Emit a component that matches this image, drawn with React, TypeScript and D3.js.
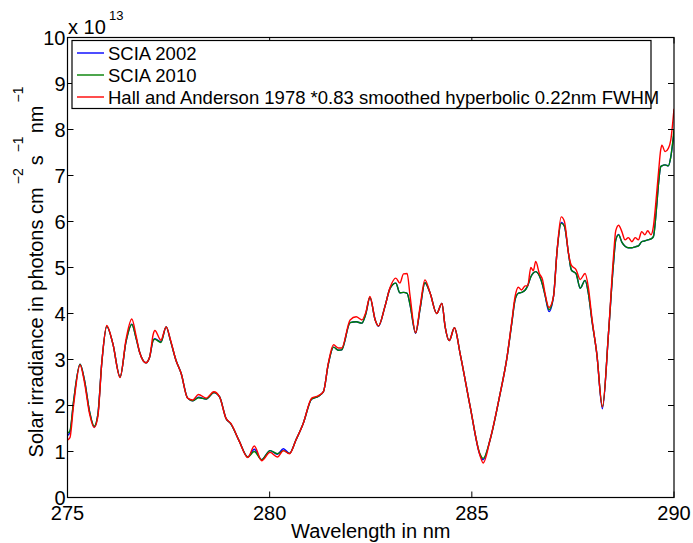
import React from "react";
import * as d3 from "d3";

const wavelengths = [
  275.0, 275.06, 275.15, 275.31, 275.42, 275.55, 275.66, 275.75, 275.85, 275.97,
  276.12, 276.3, 276.45, 276.59, 276.7, 276.78, 276.94, 277.03, 277.12, 277.16,
  277.31, 277.44, 277.55, 277.68, 277.81, 277.97, 278.1, 278.24, 278.43, 278.62,
  278.76, 278.92, 279.04, 279.25, 279.46, 279.62, 279.8, 280.01, 280.19, 280.34,
  280.49, 280.65, 280.83, 281.04, 281.2, 281.33, 281.45, 281.58, 281.7, 281.78,
  281.99, 282.14, 282.28, 282.38, 282.48, 282.61, 282.69, 282.85, 282.98, 283.12,
  283.22, 283.31, 283.4, 283.47, 283.61, 283.72, 283.84, 283.97, 284.13, 284.26,
  284.34, 284.44, 284.57, 284.71, 284.96, 285.2, 285.28, 285.45, 285.7, 285.86,
  285.99, 286.07, 286.15, 286.23, 286.32, 286.38, 286.46, 286.52, 286.58, 286.67,
  286.75, 286.81, 286.91, 287.02, 287.11, 287.21, 287.29, 287.39, 287.46, 287.58,
  287.68, 287.8, 287.88, 287.97, 288.09, 288.23, 288.38, 288.5, 288.56, 288.63,
  288.71, 288.79, 288.87, 288.96, 289.04, 289.12, 289.2, 289.28, 289.35, 289.43,
  289.49, 289.57, 289.62, 289.67, 289.7, 289.78, 289.86, 289.92, 290.0,
];

const scia2002 = [
  1.35, 1.42, 2.08, 2.9, 2.55, 1.85, 1.53, 1.8, 2.95, 3.72,
  3.35, 2.62, 3.4, 3.77, 3.45, 3.17, 2.93, 3.05, 3.42, 3.45,
  3.38, 3.71, 3.4, 2.99, 2.7, 2.16, 2.1, 2.18, 2.14, 2.28,
  2.19, 1.72, 1.6, 1.22, 0.88, 1.05, 0.82, 1.02, 0.94, 1.06,
  0.96, 1.25, 1.61, 2.14, 2.2, 2.3, 2.9, 3.27, 3.2, 3.21,
  3.8, 3.82, 3.79, 4.0, 4.35, 3.86, 3.72, 4.15, 4.55, 4.66,
  4.45, 4.46, 4.44, 4.2, 3.57, 4.1, 4.67, 4.44, 4.0, 4.22,
  3.71, 3.41, 3.69, 3.13, 1.97, 0.93, 0.82, 1.25, 2.26, 2.99,
  3.8, 4.3, 4.44, 4.46, 4.51, 4.6, 4.8, 4.88, 4.91, 4.82,
  4.62, 4.4, 4.04, 4.37, 5.38, 5.98, 5.9, 5.31, 4.95, 4.86,
  4.55, 4.72, 4.45, 3.85, 3.13, 1.93, 3.57, 5.05, 5.6, 5.72,
  5.55, 5.46, 5.43, 5.43, 5.45, 5.47, 5.56, 5.58, 5.6, 5.62,
  5.67, 6.32, 6.85, 7.19, 7.21, 7.23, 7.21, 7.4, 7.92,
];

const scia2010 = [
  1.4, 1.45, 2.1, 2.9, 2.55, 1.85, 1.55, 1.8, 2.95, 3.72,
  3.35, 2.62, 3.4, 3.76, 3.45, 3.17, 2.93, 3.05, 3.42, 3.44,
  3.37, 3.71, 3.4, 2.99, 2.7, 2.16, 2.1, 2.17, 2.14, 2.28,
  2.19, 1.72, 1.6, 1.22, 0.88, 1.0, 0.82, 1.02, 0.95, 1.02,
  0.96, 1.25, 1.61, 2.14, 2.2, 2.3, 2.9, 3.27, 3.2, 3.21,
  3.8, 3.82, 3.79, 4.0, 4.35, 3.86, 3.73, 4.15, 4.55, 4.66,
  4.45, 4.46, 4.44, 4.2, 3.58, 4.1, 4.67, 4.44, 4.0, 4.22,
  3.71, 3.41, 3.69, 3.13, 1.97, 0.95, 0.85, 1.25, 2.26, 2.99,
  3.8, 4.3, 4.44, 4.46, 4.51, 4.6, 4.8, 4.88, 4.91, 4.82,
  4.62, 4.4, 4.08, 4.37, 5.38, 5.96, 5.9, 5.31, 4.95, 4.86,
  4.55, 4.72, 4.45, 3.85, 3.13, 1.97, 3.57, 5.05, 5.6, 5.71,
  5.55, 5.46, 5.43, 5.43, 5.45, 5.47, 5.56, 5.58, 5.6, 5.62,
  5.67, 6.32, 6.85, 7.19, 7.21, 7.23, 7.21, 7.4, 8.0,
];

const hallAnderson = [
  1.25, 1.3, 2.0, 2.88, 2.5, 1.8, 1.52, 1.75, 2.95, 3.74,
  3.35, 2.61, 3.45, 3.88, 3.5, 3.17, 2.93, 3.05, 3.55, 3.63,
  3.42, 3.71, 3.42, 2.99, 2.7, 2.16, 2.12, 2.24, 2.16, 2.3,
  2.19, 1.72, 1.61, 1.22, 0.87, 1.12, 0.8, 0.98, 0.88, 1.02,
  0.95, 1.25, 1.61, 2.16, 2.21, 2.3, 2.92, 3.32, 3.25, 3.25,
  3.86, 3.93, 3.86, 4.03, 4.37, 3.86, 3.73, 4.15, 4.57, 4.77,
  4.66, 4.86, 4.87, 4.4, 3.58, 4.15, 4.73, 4.44, 4.0, 4.22,
  3.71, 3.41, 3.69, 3.13, 1.97, 0.92, 0.75, 1.25, 2.26, 2.99,
  3.84, 4.37, 4.57, 4.51, 4.6, 4.6, 5.0, 4.93, 5.13, 4.87,
  4.73, 4.44, 4.13, 4.37, 5.38, 6.1, 6.0, 5.31, 5.05, 4.95,
  4.74, 4.87, 4.58, 3.9, 3.13, 1.97, 3.57, 5.2, 5.8, 5.92,
  5.78, 5.6, 5.65, 5.56, 5.65, 5.6, 5.78, 5.71, 5.8, 5.71,
  5.89, 6.6, 7.1, 7.55, 7.66, 7.52, 7.59, 7.77, 8.45,
];

const xTicks = [275, 280, 285, 290];
const yTicks = [0, 1, 2, 3, 4, 5, 6, 7, 8, 9, 10];
const seriesNames = [
  "SCIA 2002",
  "SCIA 2010",
  "Hall and Anderson 1978 *0.83 smoothed hyperbolic 0.22nm FWHM",
];
const seriesColors = ["#0000ff", "#008000", "#ff0000"];
const seriesValues = [scia2002, scia2010, hallAnderson];

const W = 693;
const H = 543;
const left = 67.5;
const right = 674;
const top = 37.5;
const bottom = 497.5;
const font = "'Liberation Sans', Arial, Helvetica, sans-serif";

export default function App() {
  const x = d3.scaleLinear().domain([275, 290]).range([left, right]);
  const y = d3.scaleLinear().domain([0, 10]).range([bottom, top]);
  const tickLen = 6;

  const line = (vals: number[]) =>
    d3
      .line<number>()
      .x((_, i) => x(wavelengths[i]))
      .y((v) => y(v))
      .curve(d3.curveMonotoneX)(vals) || "";

  return (
    <svg
      width={W}
      height={H}
      style={{ position: "absolute", left: 0, top: 0, background: "#fff" }}
      fontFamily={font}
    >
      <rect x={0} y={0} width={W} height={H} fill="#fff" />
      <defs>
        <clipPath id="plotclip">
          <rect x={left} y={top} width={right - left} height={bottom - top} />
        </clipPath>
      </defs>

      <g clipPath="url(#plotclip)">
        {seriesValues.map((vals, i) => (
          <path
            key={i}
            d={line(vals)}
            fill="none"
            stroke={seriesColors[i]}
            strokeWidth={1.4}
            strokeLinejoin="round"
          />
        ))}
      </g>

      <rect
        x={left}
        y={top}
        width={right - left}
        height={bottom - top}
        fill="none"
        stroke="#000"
        strokeWidth={1.2}
      />

      {xTicks.map((t) => (
        <g key={"x" + t}>
          <line x1={x(t)} x2={x(t)} y1={bottom} y2={bottom - tickLen} stroke="#000" />
          <line x1={x(t)} x2={x(t)} y1={top} y2={top + tickLen} stroke="#000" />
          <text x={x(t)} y={520} fontSize={20} textAnchor="middle" fill="#000">
            {t}
          </text>
        </g>
      ))}

      {yTicks.map((t) => (
        <g key={"y" + t}>
          <line x1={left} x2={left + tickLen} y1={y(t)} y2={y(t)} stroke="#000" />
          <line x1={right} x2={right - tickLen} y1={y(t)} y2={y(t)} stroke="#000" />
          <text x={left - 2} y={y(t) + 7} fontSize={20} textAnchor="end" fill="#000">
            {t}
          </text>
        </g>
      ))}

      <text x={68} y={34} fontSize={20} fill="#000">
        x 10
      </text>
      <text x={109} y={20} fontSize={13} fill="#000">
        13
      </text>

      <text x={(left + right) / 2} y={538} fontSize={20} textAnchor="middle" fill="#000">
        Wavelength in nm
      </text>

      <text
        transform={`translate(43, 272) rotate(-90)`}
        fontSize={20}
        textAnchor="middle"
        fill="#000"
      >
        <tspan>Solar irradiance in photons cm</tspan>
        <tspan fontSize={14} dx={3} dy={-20}>−2</tspan>
        <tspan dx={3} dy={20}>s</tspan>
        <tspan fontSize={14} dx={3} dy={-20}>−1</tspan>
        <tspan dx={3} dy={20}>nm</tspan>
        <tspan fontSize={14} dx={3} dy={-20}>−1</tspan>
      </text>

      <rect x={72} y={40.5} width={579} height={68} fill="#fff" stroke="#000" strokeWidth={1.2} />
      {seriesNames.map((n, i) => {
        const ly = 53 + i * 22;
        return (
          <g key={n}>
            <line x1={77} x2={104} y1={ly} y2={ly} stroke={seriesColors[i]} strokeWidth={1.4} />
            <text x={108} y={ly + 6.5} fontSize={18.5} fill="#000">
              {n}
            </text>
          </g>
        );
      })}
    </svg>
  );
}
